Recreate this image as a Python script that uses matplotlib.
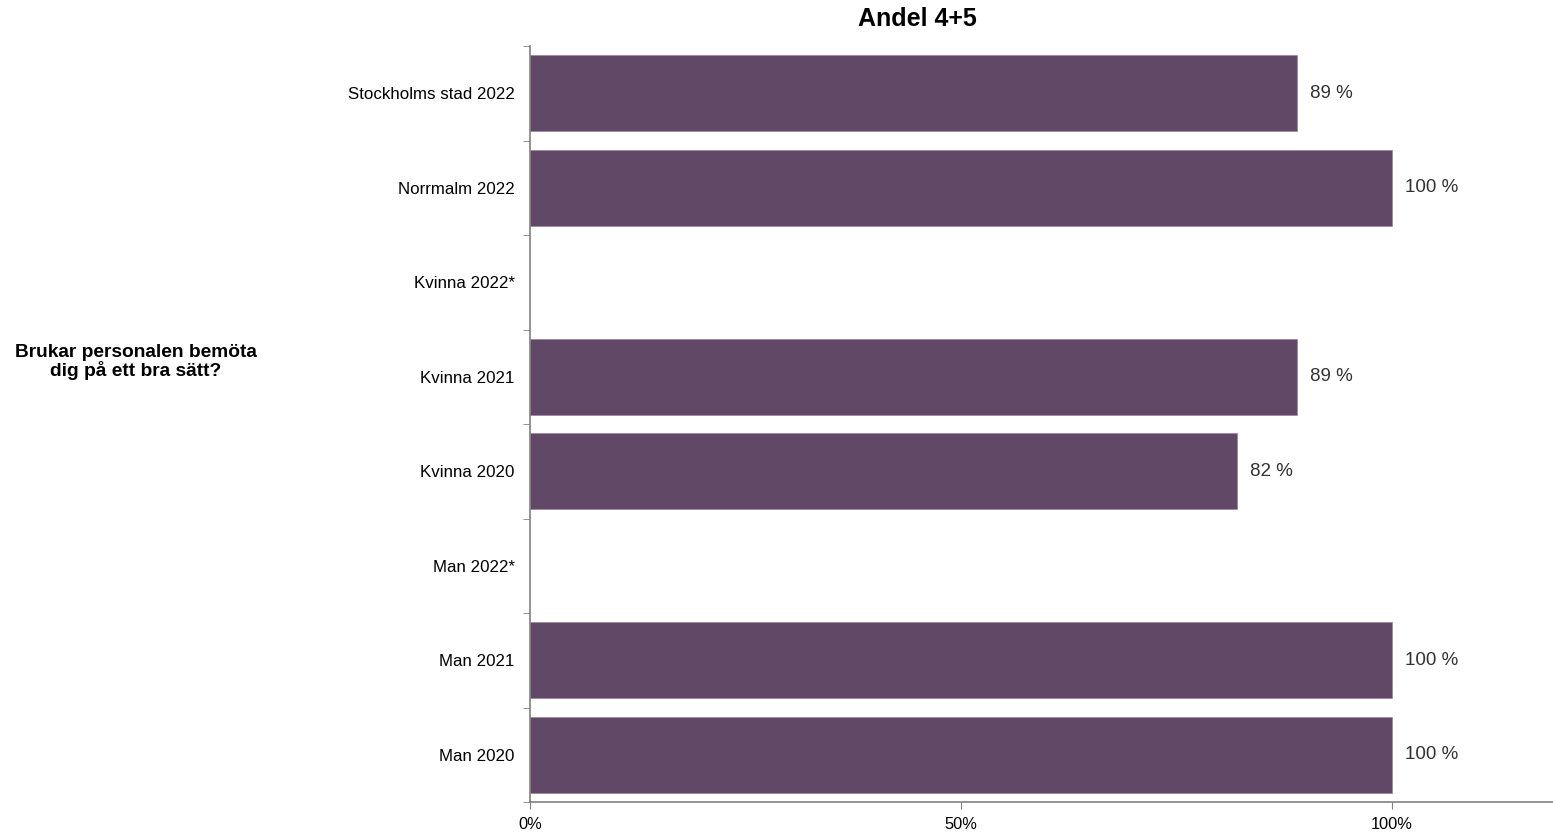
import matplotlib.pyplot as plt
from matplotlib.ticker import FixedLocator

plt.rcParams['font.family'] = ['Liberation Sans', 'DejaVu Sans']

kategorier = ['Stockholms stad 2022', 'Norrmalm 2022', 'Kvinna 2022*', 'Kvinna 2021',
              'Kvinna 2020', 'Man 2022*', 'Man 2021', 'Man 2020']
andel = [0.89, 1.00, None, 0.89, 0.82, None, 1.00, 1.00]
xticks = [0, 0.5, 1.0]
xtick_labels = ['0%', '50%', '100%']

fig = plt.figure(figsize=(15.53, 8.33), dpi=100)
ax = fig.add_axes([530 / 1553, 1 - 802 / 833, 1 - 530 / 1553, (802 - 46) / 833])

for i, v in enumerate(andel):
    if v is None:
        continue
    ax.barh(i, v, height=0.8, color='#614866', edgecolor='#9c8aa0', linewidth=0.6)
    ax.text(v + 0.015, i, f'{round(v * 100)} %', va='center', ha='left',
            fontsize=13.5, color='#333333')

ax.set_xlim(0, 1.187)
ax.set_ylim(len(kategorier) - 0.5, -0.5)

ax.set_yticks(range(len(kategorier)))
ax.set_yticklabels(kategorier, fontsize=12.2)
ax.yaxis.set_minor_locator(FixedLocator([i - 0.5 for i in range(len(kategorier) + 1)]))
ax.tick_params(axis='y', which='major', length=0, pad=11)
ax.tick_params(axis='y', which='minor', length=5, color='#808080')

ax.set_xticks(xticks)
ax.set_xticklabels(xtick_labels, fontsize=11.8)
ax.tick_params(axis='x', length=5, color='#808080', pad=6)

for s in ['top', 'right']:
    ax.spines[s].set_visible(False)
for s in ['left', 'bottom']:
    ax.spines[s].set_color('#808080')
    ax.spines[s].set_linewidth(1.2)

fig.text(917 / 1553, 1 - 19 / 833, 'Andel 4+5', ha='center', va='center',
         fontsize=18, fontweight='bold')
fig.text(136 / 1553, 1 - 362 / 833, 'Brukar personalen bemöta\ndig på ett bra sätt?',
         ha='center', va='center', fontsize=13.8, fontweight='bold', linespacing=1.05)

fig.savefig('out.png', dpi=100)
